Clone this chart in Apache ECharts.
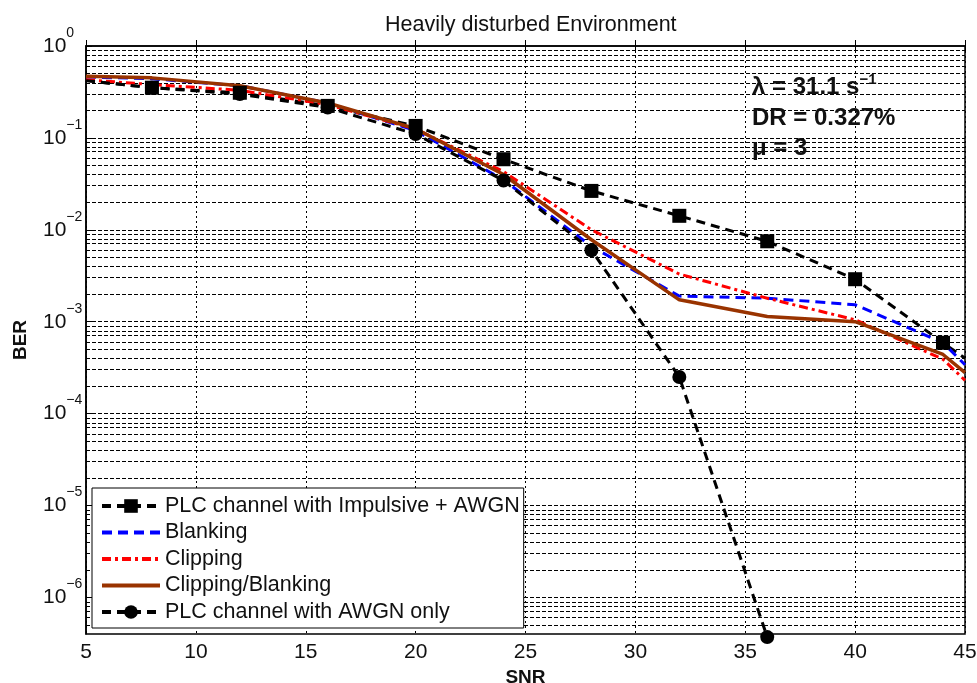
<!DOCTYPE html>
<html>
<head>
<meta charset="utf-8">
<script src="https://cdn.jsdelivr.net/npm/echarts@6/dist/echarts.min.js"></script>
<style>
  html, body { margin: 0; padding: 0; background: #fff; }
  #chart { width: 977px; height: 683px; }
</style>
</head>
<body>
<div id="chart"></div>
<script>
// SNR sample points (dB); the curves run edge to edge of the axis
const snr = [5, 8, 12, 16, 20, 24, 28, 32, 36, 40, 44, 45];
const snrAwgn = [5, 8, 12, 16, 20, 24, 28, 32, 36];

// Bit error rates
const berImpulsive = [0.42, 0.352, 0.31, 0.223, 0.135, 0.0586, 0.0265, 0.0142, 0.0075, 0.0029, 5.9e-4, 4.0e-4];
const berBlanking  = [0.46, 0.44, 0.37, 0.24, 0.12, 0.035, 0.0066, 1.9e-3, 1.8e-3, 1.53e-3, 5.9e-4, 3.4e-4];
const berClipping  = [0.43, 0.38, 0.33, 0.23, 0.125, 0.043, 0.0100, 3.3e-3, 1.8e-3, 1.05e-3, 3.9e-4, 2.3e-4];
const berClipBlank = [0.47, 0.45, 0.37, 0.24, 0.126, 0.040, 0.0078, 1.73e-3, 1.14e-3, 1.0e-3, 4.4e-4, 2.8e-4];
const berAwgn      = [0.42, 0.352, 0.30, 0.214, 0.11, 0.0344, 0.006, 2.5e-4, 3.7e-7];

// Axis ranges and tick labels
const berMin = 4e-7;
const berMax = 1;
const yDecades = [-6, -5, -4, -3, -2, -1, 0];
const snrMin = 5, snrMax = 45, snrStep = 5;

const seriesNames = [
  'PLC channel with Impulsive + AWGN',
  'Blanking',
  'Clipping',
  'Clipping/Blanking',
  'PLC channel with AWGN only'
];
// curves drawn without markers
const plainCurves = ['Blanking', 'Clipping', 'Clipping/Blanking'];

const FONT = '"Liberation Sans", Arial, Helvetica, sans-serif';

// BER is drawn on a log10 scale
function toPoints(xs, ys, markerStep) {
  return xs.map((x, i) => {
    const item = { value: [x, Math.log10(ys[i])] };
    if (markerStep && x % markerStep !== 0) item.symbol = 'none';
    return item;
  });
}

// horizontal grid: every k * 10^n inside the range
const gridLines = [];
for (let n = -7; n <= -1; n++) {
  for (let k = 1; k <= 9; k++) {
    const v = k * Math.pow(10, n);
    if (v >= berMin && v < berMax) gridLines.push({ yAxis: Math.log10(v) });
  }
}

const chart = echarts.init(document.getElementById('chart'), null, { renderer: 'canvas' });

const lineBase = {
  type: 'line',
  animation: false,
  showAllSymbol: true,
  z: 3
};

chart.setOption({
  backgroundColor: '#ffffff',
  animation: false,
  title: {
    text: 'Heavily disturbed Environment',
    left: 380,
    top: 9,
    textStyle: { fontFamily: FONT, fontSize: 21.5, fontWeight: 'normal', color: '#111' }
  },
  grid: {
    left: 86, right: 12, top: 46, bottom: 49,
    outerBoundsMode: 'none',
    containLabel: false,
    show: true, borderColor: '#000', borderWidth: 1.5, backgroundColor: '#fff'
  },
  legend: {
    orient: 'vertical',
    left: 92,
    top: 488,
    z: 20,
    data: seriesNames.map(name => plainCurves.indexOf(name) >= 0
      ? { name: name, itemStyle: { opacity: 0 } }
      : { name: name }),
    itemWidth: 58,
    itemHeight: 17,
    itemGap: 4.5,
    padding: [7, 4, 5, 8],
    borderColor: '#000',
    borderWidth: 1,
    backgroundColor: '#fff',
    selectedMode: false,
    lineStyle: { width: 4 },
    textStyle: { fontFamily: FONT, fontSize: 21.5, color: '#111' }
  },
  xAxis: [{
    type: 'value',
    min: snrMin, max: snrMax, interval: snrStep,
    name: 'SNR',
    nameLocation: 'middle',
    nameGap: 31,
    nameTextStyle: { fontFamily: FONT, fontSize: 19, fontWeight: 'bold', color: '#111' },
    axisLine: { show: true, lineStyle: { color: '#000', width: 1.5 } },
    axisTick: { show: true, inside: true, length: 6, lineStyle: { color: '#000' } },
    axisLabel: { fontFamily: FONT, fontSize: 21, color: '#111', margin: 8 },
    splitLine: { show: true, lineStyle: { color: '#000', type: [2, 3], width: 1 } }
  }, {
    type: 'value',
    position: 'top',
    min: snrMin, max: snrMax, interval: snrStep,
    axisLine: { show: false },
    axisTick: { show: true, inside: true, length: 6, lineStyle: { color: '#000' } },
    axisLabel: { show: false },
    splitLine: { show: false }
  }],
  yAxis: {
    type: 'value',
    min: Math.log10(berMin),
    max: Math.log10(berMax),
    name: 'BER',
    nameLocation: 'middle',
    nameRotate: 90,
    nameGap: 56,
    nameTextStyle: { fontFamily: FONT, fontSize: 19, fontWeight: 'bold', color: '#111' },
    axisLine: { show: true, lineStyle: { color: '#000', width: 1.5 } },
    axisTick: { show: true, inside: true, length: 6, customValues: yDecades, lineStyle: { color: '#000' } },
    splitLine: { show: false },
    axisLabel: {
      customValues: yDecades,
      align: 'left',
      margin: 43,
      formatter: function (v) {
        const e = Math.round(v);
        return '{b|10}{e|' + (e === 0 ? '0' : '\u2212' + Math.abs(e)) + '}';
      },
      rich: {
        b: { fontFamily: FONT, fontSize: 21, color: '#111', lineHeight: 40 },
        e: { fontFamily: FONT, fontSize: 14, color: '#111', lineHeight: 14, verticalAlign: 'top' }
      }
    }
  },
  graphic: [
    {
      type: 'text', left: 752, top: 72, z: 10,
      style: {
        text: '{a|\u03bb = 31.1 s}{s|\u22121}',
        rich: {
          a: { fontFamily: FONT, fontSize: 24, fontWeight: 'bold', fill: '#111', lineHeight: 30 },
          s: { fontFamily: FONT, fontSize: 15, fontWeight: 'bold', fill: '#111', lineHeight: 15, verticalAlign: 'top' }
        }
      }
    },
    {
      type: 'text', left: 752, top: 106, z: 10,
      style: { text: 'DR = 0.327%', font: 'bold 24px ' + FONT, fill: '#111' }
    },
    {
      type: 'text', left: 752, top: 136, z: 10,
      style: { text: '\u03bc = 3', font: 'bold 24px ' + FONT, fill: '#111' }
    }
  ],
  series: [
    {
      // background grid of the log axis
      type: 'line',
      data: [],
      z: 1,
      silent: true,
      animation: false,
      markLine: {
        z: 1,
        silent: true,
        animation: false,
        symbol: ['none', 'none'],
        label: { show: false },
        lineStyle: { color: '#000', type: [4, 2], width: 1 },
        data: gridLines
      }
    },
    Object.assign({}, lineBase, {
      name: seriesNames[0],
      data: toPoints(snr, berImpulsive, 4),
      symbol: 'rect', symbolSize: 14,
      itemStyle: { color: '#000' },
      lineStyle: { color: '#000', width: 3, type: [9, 6] }
    }),
    Object.assign({}, lineBase, {
      name: seriesNames[1],
      data: toPoints(snr, berBlanking),
      symbol: 'none',
      itemStyle: { color: '#0000ff' },
      lineStyle: { color: '#0000ff', width: 3, type: [10, 6] }
    }),
    Object.assign({}, lineBase, {
      name: seriesNames[2],
      data: toPoints(snr, berClipping),
      symbol: 'none',
      itemStyle: { color: '#ff0000' },
      lineStyle: { color: '#ff0000', width: 3, type: [9, 4, 3, 4] }
    }),
    Object.assign({}, lineBase, {
      name: seriesNames[3],
      data: toPoints(snr, berClipBlank),
      symbol: 'none',
      itemStyle: { color: '#993300' },
      lineStyle: { color: '#993300', width: 3.5, type: 'solid' }
    }),
    Object.assign({}, lineBase, {
      name: seriesNames[4],
      data: toPoints(snrAwgn, berAwgn, 4),
      clip: false,
      symbol: 'circle', symbolSize: 14,
      itemStyle: { color: '#000' },
      lineStyle: { color: '#000', width: 3, type: [9, 6] }
    })
  ]
});
</script>
</body>
</html>
